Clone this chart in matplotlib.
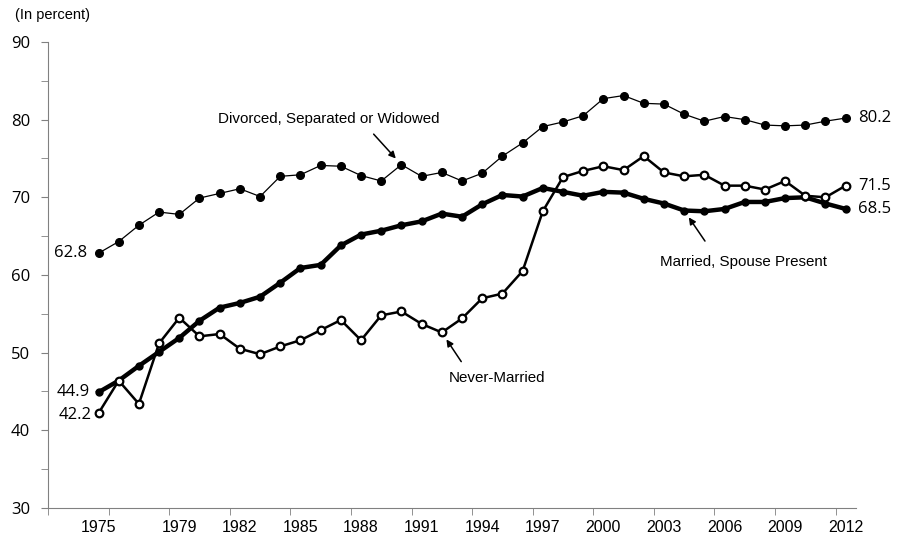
import matplotlib.pyplot as plt

plt.rcParams['font.family'] = ['Liberation Sans', 'DejaVu Sans']

years = list(range(1975, 2013))

divorced = [62.8, 64.3, 66.4, 68.1, 67.8, 69.9, 70.5, 71.1, 70.1, 72.7,
            72.9, 74.1, 74.0, 72.8, 72.1, 74.2, 72.7, 73.2, 72.1, 73.1,
            75.3, 77.0, 79.1, 79.7, 80.5, 82.7, 83.1, 82.1, 82.0, 80.7,
            79.8, 80.4, 80.0, 79.3, 79.2, 79.3, 79.8, 80.2]

married = [44.9, 46.4, 48.3, 50.1, 51.9, 54.1, 55.8, 56.4, 57.2, 59.0,
           60.9, 61.3, 63.8, 65.2, 65.7, 66.4, 66.9, 67.9, 67.5, 69.1,
           70.3, 70.1, 71.2, 70.7, 70.2, 70.7, 70.6, 69.8, 69.2, 68.3,
           68.2, 68.5, 69.4, 69.4, 69.9, 70.0, 69.2, 68.5]

never_married = [42.2, 46.4, 43.4, 51.2, 54.5, 52.1, 52.4, 50.5, 49.8, 50.8,
                 51.6, 52.9, 54.2, 51.6, 54.8, 55.3, 53.7, 52.6, 54.4, 57.0,
                 57.6, 60.5, 68.2, 72.6, 73.4, 74.0, 73.5, 75.3, 73.2, 72.7,
                 72.9, 71.5, 71.5, 71.0, 72.1, 70.2, 70.0, 71.5]

tick_years = [1975, 1979, 1982, 1985, 1988, 1991, 1994, 1997, 2000, 2003, 2006, 2009, 2012]
tick_labels = [str(y) for y in tick_years]

NUM_FONT = ['Open Sans', 'DejaVu Sans']


def main():
    fig = plt.figure(figsize=(9.2, 5.47), dpi=100)
    ax = fig.add_axes([0.0522, 0.0713, 0.878, 0.852])

    ax.plot(years, divorced, color='black', lw=0.9, marker='o', ms=5.5,
            mfc='black', mec='black')
    ax.plot(years, married, color='black', lw=3.2, marker='o', ms=5,
            mfc='black', mec='black')
    ax.plot(years, never_married, color='black', lw=1.8, marker='o', ms=5.5,
            mfc='white', mec='black', mew=1.6)

    ax.set_xlim(1972.5, 2012.5)
    ax.set_ylim(30, 90)
    ax.set_yticks(range(30, 91, 10))
    ax.set_yticks(range(35, 90, 10), minor=True)
    ax.set_yticklabels([str(v) for v in range(30, 91, 10)], family=NUM_FONT, fontsize=12)
    ax.set_xticks(tick_years)
    ax.set_xticklabels(tick_labels)
    ax.set_xticks([1972.5 + 3 * k for k in range(14)], minor=True)
    ax.tick_params(axis='x', which='major', length=0, pad=9, labelsize=11.5)
    ax.tick_params(axis='x', which='minor', length=5, color='#808080')
    ax.tick_params(axis='y', which='both', length=5, color='#808080', pad=8)

    for side in ['top', 'right']:
        ax.spines[side].set_visible(False)
    for side in ['left', 'bottom']:
        ax.spines[side].set_color('#808080')

    fig.text(0.016, 0.973, '(In percent)', fontsize=10.5, va='center', ha='left')

    # end point labels
    lab = dict(textcoords='offset points', va='center', fontsize=12, family=NUM_FONT)
    ax.annotate(f'{divorced[0]}', (years[0], divorced[0]), xytext=(-8, 0),
                ha='right', **lab)
    ax.annotate(f'{married[0]}', (years[0], married[0]), xytext=(-6, 0),
                ha='right', **lab)
    ax.annotate(f'{never_married[0]}', (years[0], never_married[0]), xytext=(-5, -1),
                ha='right', **lab)
    for series in [divorced, never_married, married]:
        ax.annotate(f'{series[-1]}', (years[-1], series[-1]), xytext=(9, 0),
                    ha='left', **lab)

    arrow = dict(arrowstyle='-|>', color='black', lw=1.1, mutation_scale=10,
                 shrinkA=0, shrinkB=6)
    ax.annotate('Divorced, Separated or Widowed', (1990, divorced[15]),
                xytext=(-52, 33), textcoords='offset points', ha='center',
                va='center', fontsize=10.9)
    ax.annotate('', (1990, divorced[15]), xytext=(-20, 22),
                textcoords='offset points', arrowprops=arrow)
    ax.annotate('Never-Married', (1992, never_married[17]),
                xytext=(40, -33), textcoords='offset points', ha='center',
                va='center', fontsize=10.9)
    ax.annotate('', (1992, never_married[17]), xytext=(14, -21),
                textcoords='offset points', arrowprops=arrow)
    ax.annotate('Married, Spouse Present', (2004, married[29]),
                xytext=(43, -37), textcoords='offset points', ha='center',
                va='center', fontsize=10.9)
    ax.annotate('', (2004, married[29]), xytext=(15, -22),
                textcoords='offset points', arrowprops=arrow)

    fig.savefig('out.png', dpi=100)


if __name__ == "__main__":
    main()
